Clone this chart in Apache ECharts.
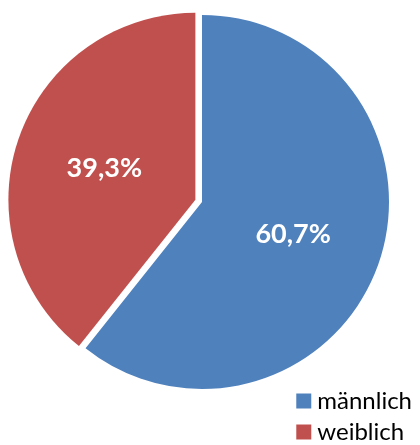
<!DOCTYPE html>
<html><head><meta charset="utf-8">
<script src="https://cdn.jsdelivr.net/npm/echarts@6/dist/echarts.min.js"></script>
<style>html,body{margin:0;padding:0;background:#fff}#c{width:420px;height:445px}</style>
</head><body><div id="c"></div>
<script>
const categories = ['männlich', 'weiblich'];
const values = [60.7, 39.3];
const colors = ['#4F81BD', '#C0504D'];
const chart = echarts.init(document.getElementById('c'));
chart.setOption({
  animation: false,
  legend: {
    orient: 'vertical', right: 3, bottom: -4,
    itemWidth: 15, itemHeight: 15, itemGap: 7, icon: 'rect',
    textStyle: { fontFamily: 'Lato', fontSize: 24, color: '#000', padding: [0, 0, 0, 1] },
    selectedMode: false,
    data: categories
  },
  series: [{
    type: 'pie',
    center: [202, 202],
    radius: [0, 187],
    startAngle: 90,
    clockwise: true,
    selectedMode: 'multiple',
    selectedOffset: 7,
    avoidLabelOverlap: false,
    label: {
      show: true, position: 'inside', color: '#fff',
      fontFamily: 'Lato', fontWeight: 'bold', fontSize: 27,
      formatter: p => p.value.toFixed(1).replace('.', ',') + '%'
    },
    labelLine: { show: false },
    emphasis: { disabled: true },
    data: categories.map((n, i) => ({
      name: n, value: values[i], selected: i === 1,
      itemStyle: { color: colors[i] }
    }))
  }]
});
</script></body></html>
